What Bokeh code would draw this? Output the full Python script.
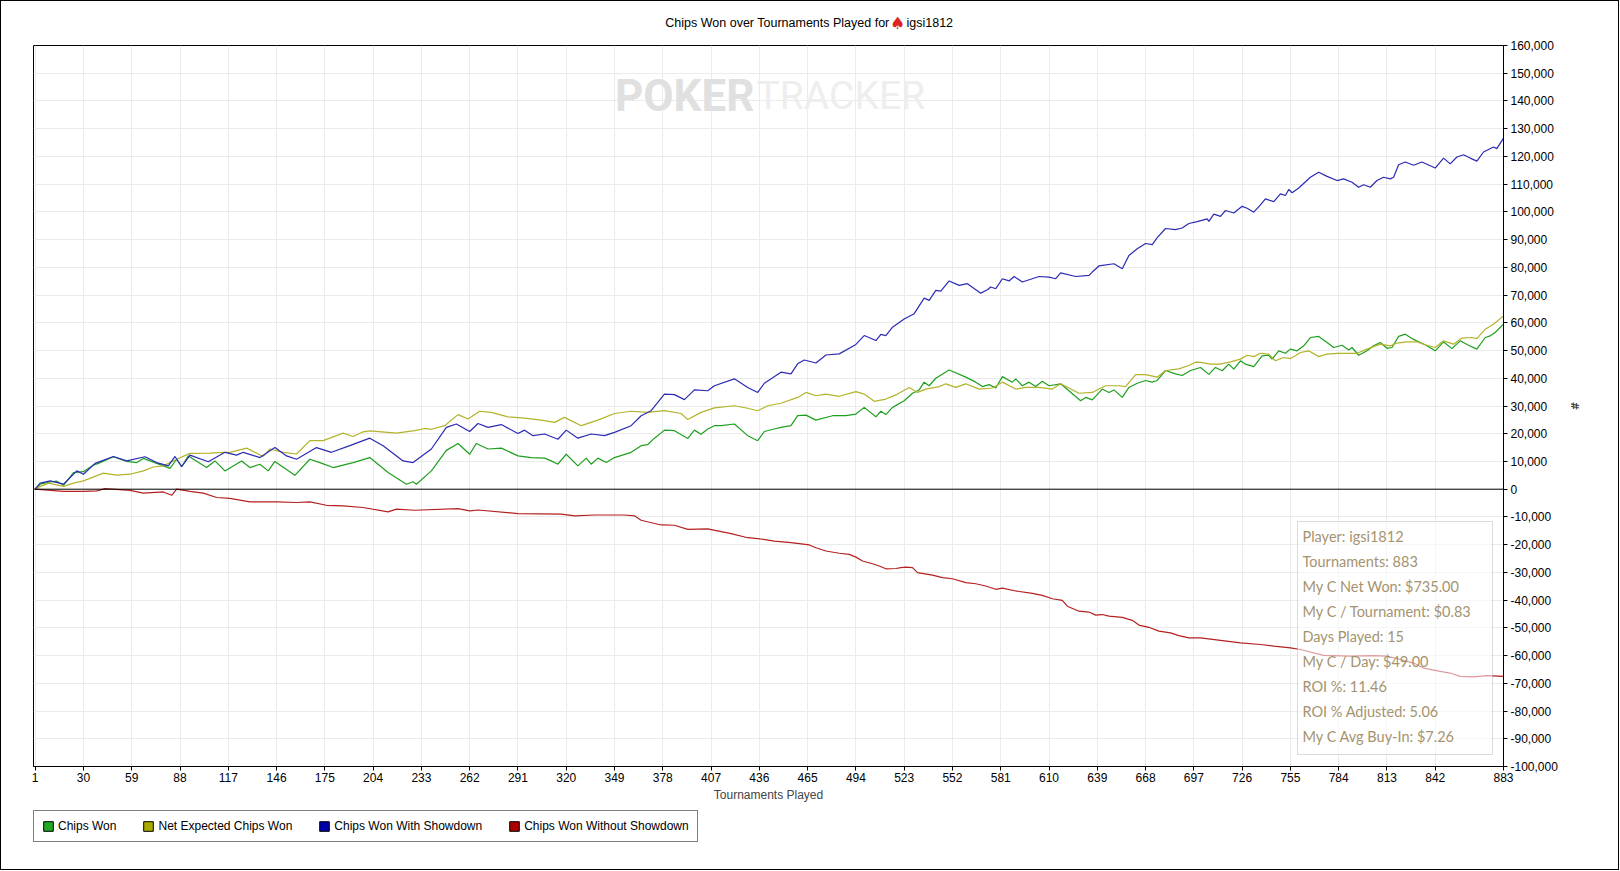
import numpy as np
from bokeh.plotting import figure
from bokeh.layouts import column
from bokeh.models import (FixedTicker, NumeralTickFormatter, Span, Label, BoxAnnotation,
                          Legend, LegendItem, Range1d, InlineStyleSheet)
from bokeh.embed import file_html
from bokeh.resources import INLINE

# ---------------- data (values in thousands of chips) ----------------
won_t = [1, 4, 10, 14, 18, 24, 30, 36, 39, 48,
         56, 62, 66, 74, 82, 86, 89, 93, 104, 109,
         115, 125, 130, 136, 141, 145, 157, 166, 172, 180,
         192, 202, 213, 224, 228, 230, 239, 248, 255, 262,
         266, 273, 281, 291, 299, 307, 311, 315, 320, 327,
         332, 335, 339, 344, 349, 359, 365, 369, 373, 379,
         385, 393, 397, 401, 405, 409, 413, 421, 429, 435,
         439, 445, 449, 455, 459, 464, 470, 480, 488, 494,
         499, 506, 509, 512, 516, 523, 528, 532, 535, 538,
         542, 550, 560, 566, 570, 574, 578, 582, 588, 590,
         594, 598, 602, 606, 610, 617, 629, 632, 636, 642,
         646, 649, 654, 658, 663, 668, 672, 675, 680, 686,
         690, 695, 701, 706, 710, 714, 718, 721, 725, 728,
         733, 738, 742, 744, 748, 752, 755, 759, 763, 767,
         772, 777, 781, 786, 790, 792, 796, 801, 805, 809,
         813, 816, 820, 824, 828, 833, 837, 842, 847, 852,
         857, 862, 867, 872, 875, 878, 883]
won_v = [0, 1.8, 2.6, 2.9, 1.4, 6, 6.3, 8.7, 9.3, 11.7,
         10, 9.6, 11.1, 9.3, 7.5, 10.8, 8.2, 12, 7.8, 10.2,
         6.6, 10.2, 7.8, 9, 6.6, 10, 5, 10.8, 9.6, 7.8,
         9.6, 11.4, 6, 1.8, 2.7, 1.8, 6.6, 14, 16.5, 12.6,
         16.5, 14.5, 14.8, 12, 11.4, 11.2, 10.2, 9, 12.6, 8.4,
         11.2, 9, 11.2, 9.6, 11.4, 13.3, 15.7, 16.1, 18.4, 21.3,
         21.1, 18.3, 21.3, 19.8, 21.7, 22.9, 22.9, 23.5, 19.3, 17.5,
         20.8, 21.7, 22.3, 22.9, 26.5, 26.7, 24.9, 26.5, 26.5, 27.1,
         29.5, 26.1, 28.1, 26.9, 29.5, 31.9, 34.6, 35.8, 38.6, 37.3,
         40, 43, 40.4, 38.6, 37, 37.7, 36.5, 40.6, 38.6, 39.8,
         37.3, 38.6, 37, 38.9, 37.3, 38, 31.9, 33.1, 32.2, 36.1,
         34.9, 35.8, 33.1, 36.7, 38.2, 39.2, 38.6, 39.2, 42.8, 41.6,
         41, 42.8, 43.9, 41.4, 43.9, 42.7, 45.1, 43.3, 46.3, 45.1,
         44.2, 48.1, 48.3, 46.9, 49.9, 49, 50.5, 49.9, 51.7, 54.7,
         55.1, 52.9, 51.1, 51.9, 50.2, 51.1, 48.3, 49.9, 51.7, 52.9,
         50.8, 51.1, 55.1, 55.9, 54.3, 52.9, 51.7, 49.9, 53.1, 50.7,
         53.5, 51.9, 50.5, 54.7, 55.3, 56.5, 59.5]

exp_t = [1, 9, 18, 24, 30, 42, 50, 58, 66, 72,
         78, 86, 94, 106, 114, 118, 128, 138, 142, 150,
         158, 166, 174, 186, 192, 198, 202, 218, 229, 235,
         239, 247, 255, 261, 268, 275, 285, 295, 305, 313,
         319, 329, 339, 349, 359, 369, 379, 389, 393, 401,
         409, 421, 429, 435, 441, 449, 459, 464, 470, 476,
         484, 494, 499, 505, 512, 518, 526, 531, 536, 544,
         548, 554, 560, 568, 576, 582, 590, 596, 604, 612,
         617, 628, 636, 640, 644, 652, 656, 662, 668, 675,
         680, 688, 694, 698, 701, 707, 713, 719, 725, 729,
         733, 737, 742, 746, 751, 755, 758, 761, 766, 772,
         777, 783, 789, 795, 801, 809, 815, 819, 825, 831,
         837, 842, 847, 853, 858, 864, 867, 872, 877, 883]
exp_v = [0.2, 2.2, 1.0, 2.2, 3, 5.8, 5.1, 5.4, 6.6, 8,
         8.4, 10.8, 12.9, 13, 13.3, 13.3, 14.8, 11.8, 14.5, 13.3,
         12.7, 17.5, 17.5, 20.2, 19, 20.7, 21, 20.2, 21.1, 21.9,
         21.6, 22.9, 26.9, 25.3, 28.1, 27.7, 26.1, 25.6, 24.9, 24.1,
         25.9, 22.9, 24.9, 27.3, 28.1, 27.7, 28.3, 27.3, 25.1, 27.7,
         29.3, 30.1, 29.2, 28.3, 30.1, 31, 33.1, 34.9, 33.7, 34.3,
         33.5, 35.2, 34.3, 31.7, 32.5, 34, 36.7, 34.9, 36.1, 37,
         38, 36.7, 38, 36.1, 36.5, 38.6, 36.1, 36.7, 36.7, 36.1,
         38, 34.6, 34.9, 36.1, 37.3, 37.3, 37, 41.3, 41.3, 40.4,
         42.8, 43.4, 44.6, 45.8, 45.7, 45.1, 45.1, 45.9, 46.9, 48.3,
         47.8, 49, 48.7, 46.3, 47.5, 47.1, 48.1, 49.3, 49.9, 47.8,
         48.7, 49, 49, 49, 50.5, 52.3, 51.7, 52.7, 53.1, 53.1,
         51.9, 51.1, 53.5, 52.3, 54.5, 54.7, 54.3, 57.7, 59.5, 62.5]

sd_t = [1, 4, 10, 18, 26, 30, 37, 48, 56, 67,
        74, 81, 85, 89, 94, 105, 115, 122, 126, 136,
        145, 152, 158, 170, 179, 190, 202, 210, 222, 228,
        239, 248, 254, 262, 267, 273, 281, 291, 295, 300,
        307, 315, 320, 327, 335, 343, 349, 359, 365, 371,
        379, 385, 391, 397, 405, 409, 421, 429, 435, 439,
        449, 455, 459, 463, 470, 476, 484, 494, 499, 506,
        509, 512, 516, 523, 529, 535, 538, 542, 545, 550,
        556, 561, 569, 573, 575, 578, 582, 586, 589, 594,
        604, 610, 614, 617, 626, 634, 636, 640, 649, 654,
        658, 663, 668, 672, 675, 680, 686, 690, 694, 699,
        705, 706, 709, 713, 716, 721, 726, 729, 733, 737,
        740, 745, 749, 752, 754, 756, 760, 767, 772, 777,
        783, 787, 792, 796, 799, 803, 807, 811, 815, 817,
        820, 824, 829, 834, 842, 847, 851, 855, 859, 863,
        867, 871, 877, 879, 883]
sd_v = [0, 2.2, 3.0, 1.8, 6.6, 5.4, 9.3, 11.8, 10.2, 11.7,
        9.6, 8.4, 11.8, 8.1, 12.3, 9.9, 13.3, 12.3, 13.3, 11.4,
        15, 12, 10.8, 15, 13.3, 15.7, 18.4, 15.7, 10.2, 9.6,
        14.5, 22.3, 23.5, 20.8, 23.7, 22.3, 23.3, 20.1, 21.3, 19.3,
        19.9, 18, 21.3, 18.4, 19.9, 19.3, 20.5, 22.9, 26.5, 28.3,
        34.3, 34.1, 32.3, 35.8, 35.5, 37.3, 39.8, 36.7, 34.9, 38.2,
        42.2, 41.6, 45.2, 46.6, 45.5, 48.4, 48.8, 52.2, 55.4, 53.6,
        55.8, 55.4, 58.4, 61.4, 63.3, 68.9, 68.1, 71.7, 71.4, 75.1,
        73.5, 74.1, 70.7, 71.9, 72.9, 72.3, 75.9, 75.1, 76.7, 74.7,
        76.7, 76.5, 75.9, 78, 76.7, 77.1, 78.3, 80.5, 81.3, 79.5,
        84.3, 86.7, 88.6, 88.2, 90.7, 94, 93.6, 94.2, 95.8, 96.5,
        97.5, 96.6, 99.2, 98.4, 100.5, 99.6, 102, 101.3, 99.9, 102.5,
        104.7, 103.7, 106.5, 105.9, 108.1, 106.9, 108.6, 112.5, 114.3, 112.8,
        111.3, 111.9, 110.7, 108.9, 109.8, 108.9, 111.3, 112.5, 111.9, 112.5,
        117, 118, 116.8, 118, 115.8, 119.4, 117.3, 119.8, 120.6, 119.4,
        118.3, 121.6, 123.4, 122.8, 126.6]

nsd_t = [1, 18, 30, 38, 43, 58, 66, 78, 83, 86,
         94, 102, 110, 118, 130, 146, 158, 166, 176, 186,
         198, 213, 218, 229, 255, 262, 267, 291, 317, 325,
         337, 355, 361, 365, 377, 385, 393, 405, 419, 429,
         435, 445, 455, 466, 470, 476, 484, 490, 494, 498,
         504, 508, 512, 518, 521, 524, 528, 531, 540, 546,
         552, 560, 566, 572, 578, 582, 590, 600, 606, 612,
         618, 621, 628, 634, 638, 642, 646, 654, 660, 664,
         670, 676, 683, 688, 694, 701, 725, 737, 745, 755,
         761, 775, 791, 805, 813, 821, 829, 835, 845, 851,
         857, 865, 873, 883]
nsd_v = [0, -0.8, -0.8, -0.6, 0.2, -0.4, -1.4, -1, -2.2, 0,
         -0.8, -1.4, -3, -3.3, -4.6, -4.6, -4.8, -4.6, -5.8, -6,
         -6.6, -8.2, -7.2, -7.6, -7, -7.8, -7.5, -8.8, -9, -9.6,
         -9.3, -9.3, -9.6, -11.2, -12.9, -13, -14.5, -14.3, -16, -17.5,
         -17.8, -18.7, -19.3, -20.1, -21.1, -22.3, -23.1, -23.5, -24.5, -25.9,
         -26.9, -27.7, -28.7, -28.6, -28.3, -28.1, -28.3, -30.1, -31, -31.9,
         -32.3, -33.7, -34.1, -34.9, -36.1, -35.7, -36.7, -37.6, -38.3, -39.5,
         -40.1, -42.2, -44, -44.3, -45.4, -45.2, -45.8, -46.2, -47.3, -49,
         -49.8, -51.2, -51.8, -52.8, -53.6, -53.6, -55.4, -56, -56.6, -57.2,
         -57.8, -59.9, -60.2, -60, -60.2, -61.4, -62.7, -64.5, -65.7, -66.3,
         -67.5, -67.7, -67.2, -67.5]

series_names = ["Chips Won", "Net Expected Chips Won", "Chips Won With Showdown",
                "Chips Won Without Showdown"]
line_colors = ["#1f9f1f", "#b3b32a", "#2b2bb5", "#b52020"]
legend_colors = ["#22aa22", "#aaaa00", "#0000aa", "#aa0000"]

x_ticks = [1, 30, 59, 88, 117, 146, 175, 204, 233, 262, 291, 320, 349, 378, 407,
           436, 465, 494, 523, 552, 581, 610, 639, 668, 697, 726, 755, 784, 813, 842, 883]
y_ticks = list(range(-100000, 160001, 10000))

title_text = "Chips Won over Tournaments Played for"
player = "igsi1812"
stats_lines = ["Player: igsi1812", "Tournaments: 883", "My C Net Won: $735.00",
               "My C / Tournament: $0.83", "Days Played: 15", "My C / Day: $49.00",
               "ROI %: 11.46", "ROI % Adjusted: 5.06", "My C Avg Buy-In: $7.26"]

# ---------------- layout constants (page pixels) ----------------
W = 1617
TOP_H = 37
MAIN_H = 773
STRIP_H = 60
FRAME_L, FRAME_R, FRAME_T, FRAME_B = 33, 1503, 45, 766
FONT = "Liberation Sans"
# the title strip's frame gets aligned with the main frame by the column layout
TITLE_DX = -FRAME_L


def strip_figure(h):
    f = figure(frame_width=W, frame_height=h, output_backend="svg", toolbar_location=None,
               x_range=Range1d(0, 1), y_range=Range1d(0, 1),
               x_axis_type=None, y_axis_type=None, min_border_left=0, min_border_right=0,
               min_border_top=0, min_border_bottom=0)
    f.outline_line_color = None
    f.background_fill_color = "white"
    f.border_fill_color = "white"
    return f


# ---------------- title strip ----------------
top = strip_figure(TOP_H)
top.add_layout(Label(x=889 + TITLE_DX, y=TOP_H - 22, x_units="screen", y_units="screen",
                     text=title_text, text_align="right", text_baseline="middle",
                     text_font=FONT, text_font_size="12.5px", text_color="black"))
top.add_layout(Label(x=897 + TITLE_DX, y=TOP_H - 22, x_units="screen", y_units="screen",
                     text="\u2660", text_align="center", text_baseline="middle",
                     text_font="DejaVu Sans", text_font_size="17px", text_color="#e02222"))
top.add_layout(Label(x=906 + TITLE_DX, y=TOP_H - 22, x_units="screen", y_units="screen",
                     text=player, text_align="left", text_baseline="middle",
                     text_font=FONT, text_font_size="12.5px", text_color="black"))

# ---------------- main chart ----------------
p = figure(width=W, height=MAIN_H, output_backend="svg", toolbar_location=None,
           x_range=Range1d(0, 883), y_range=Range1d(-100000, 160000),
           y_axis_location="right",
           min_border_left=FRAME_L, min_border_right=W - FRAME_R,
           min_border_top=FRAME_T - TOP_H, min_border_bottom=TOP_H + MAIN_H - FRAME_B)
p.background_fill_color = "white"
p.border_fill_color = "white"
p.outline_line_color = "black"
p.outline_line_width = 1

xax = p.xaxis[0]
xax.ticker = FixedTicker(ticks=x_ticks)
xax.major_tick_out = 4
xax.major_tick_in = 0
xax.minor_tick_line_color = None
xax.major_label_standoff = 2
xax.major_label_text_font = FONT
xax.major_label_text_font_size = "12px"
xax.major_label_text_color = "black"
xax.axis_label = "Tournaments Played"
xax.axis_label_text_font = FONT
xax.axis_label_text_font_size = "12px"
xax.axis_label_text_font_style = "normal"
xax.axis_label_standoff = 3
xax.axis_line_color = "black"
xax.major_tick_line_color = "black"

yax = p.yaxis[0]
yax.ticker = FixedTicker(ticks=y_ticks)
yax.formatter = NumeralTickFormatter(format="0,0")
yax.major_tick_out = 4
yax.major_tick_in = 0
yax.minor_tick_line_color = None
yax.major_label_standoff = 3
yax.major_label_text_font = FONT
yax.major_label_text_font_size = "12px"
yax.major_label_text_color = "black"
yax.axis_label = "#"
yax.axis_label_text_font = "DejaVu Sans"
yax.axis_label_text_font_size = "10px"
yax.axis_label_text_font_style = "bold"
yax.axis_label_standoff = 8
yax.axis_line_color = "black"
yax.major_tick_line_color = "black"

p.xgrid[0].ticker = FixedTicker(ticks=x_ticks)
p.ygrid[0].ticker = FixedTicker(ticks=y_ticks)
p.xgrid.grid_line_color = "#ebebeb"
p.ygrid.grid_line_color = "#ebebeb"


# helpers: page pixel position -> frame-relative screen coords
def sx(rx):
    return rx - FRAME_L


def sy(ry):
    return FRAME_B - ry


# watermark
p.add_layout(Label(x=sx(754), y=sy(95), x_units="screen", y_units="screen", text="POKER",
                   text_align="right", text_baseline="middle", text_font="Roboto",
                   text_font_style="bold", text_font_size="44px", text_color="#e0e0e0"))
p.add_layout(Label(x=sx(756), y=sy(95), x_units="screen", y_units="screen", text="TRACKER",
                   text_align="left", text_baseline="middle", text_font="Roboto",
                   text_font_size="39px", text_color="#eeeeee"))

# series lines
series = [(won_t, won_v), (exp_t, exp_v), (sd_t, sd_v), (nsd_t, nsd_v)]
for (t, v), col in zip(series, line_colors):
    p.line(x=t, y=np.array(v) * 1000, line_color=col, line_width=1.2)

p.add_layout(Span(location=0, dimension="width", line_color="black", line_width=1))

# stats box
p.add_layout(BoxAnnotation(left=sx(1297), right=sx(1492), top=sy(521), bottom=sy(754),
                           left_units="screen", right_units="screen", top_units="screen",
                           bottom_units="screen", fill_color="white", fill_alpha=0.55,
                           line_color="#888888", line_width=1))
for i, s in enumerate(stats_lines):
    p.add_layout(Label(x=sx(1302), y=sy(536 + 25 * i), x_units="screen", y_units="screen",
                       text=s, text_align="left", text_baseline="middle", text_font="Lato",
                       text_font_size="14.5px", text_color="#a5936f"))

# ---------------- legend strip ----------------
strip = strip_figure(STRIP_H)
items = []
for name, col in zip(series_names, legend_colors):
    # legend swatch proxy, placed outside the visible range of the strip
    r = strip.quad(left=[-3], right=[-2], top=[-2], bottom=[-3], fill_color=col,
                   line_color="black", line_width=1)
    items.append(LegendItem(label=name, renderers=[r]))
legend = Legend(items=items, orientation="horizontal", location=(FRAME_L, STRIP_H - 2 - 30),
                border_line_color="black", border_line_width=1,
                background_fill_color="white", background_fill_alpha=1,
                label_text_font=FONT, label_text_font_size="12px", label_text_color="black",
                glyph_width=12, glyph_height=12, label_standoff=4, spacing=26,
                padding=8, margin=0, label_height=14)
strip.add_layout(legend)

layout = column(top, p, strip, spacing=0, width=1619, height=870)
layout.styles = {"outline": "1px solid black", "outline-offset": "-1px"}
layout.stylesheets = [InlineStyleSheet(css=(
    ":host::after { content: ''; position: absolute; left: 0; top: 0; right: 0; bottom: 0;"
    " border: 1px solid black; pointer-events: none; z-index: 100; }"))]

open("out.html", "w").write(file_html(layout, INLINE))
